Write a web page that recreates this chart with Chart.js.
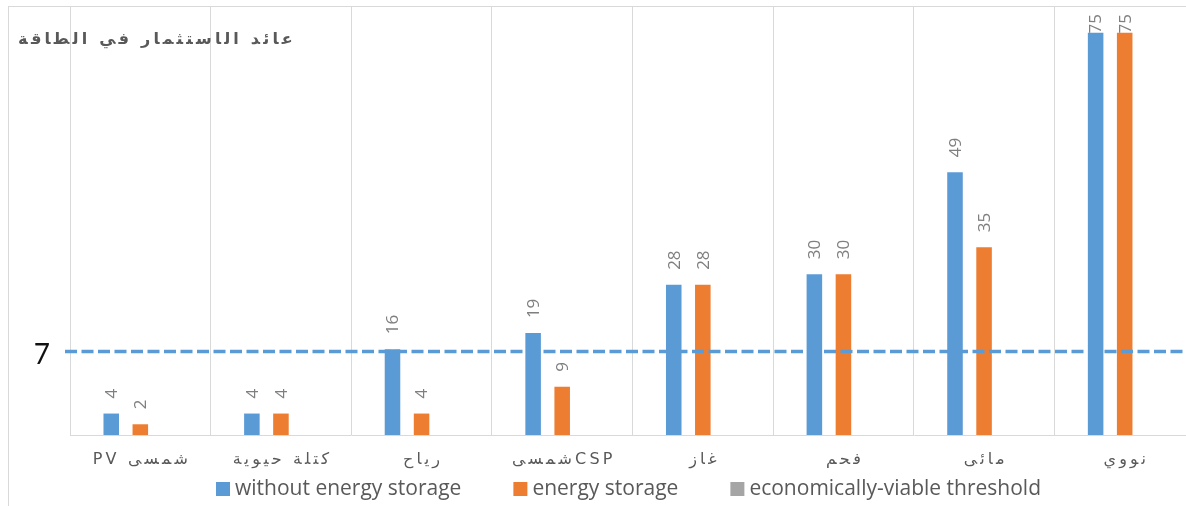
<!DOCTYPE html>
<html>
<head>
<meta charset="utf-8">
<script src="https://cdn.jsdelivr.net/npm/chart.js@4.4.1/dist/chart.umd.min.js"></script>
<style>
  html, body { margin: 0; padding: 0; background: #ffffff; overflow: hidden; }
  #wrap { width: 1186px; height: 506px; overflow: hidden; position: relative; }
  canvas { display: block; }
</style>
</head>
<body>
<div id="wrap"><canvas id="eroiChart" width="1200" height="506"></canvas></div>
<script>
// Energy return on investment by source
const categories = ['PV شمسى', 'كتلة حيوية', 'رياح', 'شمسىCSP', 'غاز', 'فحم', 'مائى', 'نووي'];
const withoutStorage = [4, 4, 16, 19, 28, 30, 49, 75];
const withStorage = [2, 4, 4, 9, 28, 30, 35, 75];
const thresholdValue = 7;
const seriesNames = ['without energy storage', 'energy storage', 'economically-viable threshold'];
const chartTitle = 'عائد الاستثمار في الطاقة';

const BLUE = '#5B9BD5';
const ORANGE = '#ED7D31';
const GREY = '#A5A5A5';
const GRID = '#d9d9d9';

// Spread letters apart while keeping Arabic letters in their joined shapes
const ZWJ = '\u200D';
const GAP = '\u2009';
const RIGHT_JOINING = new Set(Array.from('اأإآدذرزوؤةء'));
const isArabic = ch => /[\u0600-\u06FF]/.test(ch);
function spaced(text) {
  const chars = Array.from(text);
  let out = '';
  for (let i = 0; i < chars.length; i++) {
    const a = chars[i], b = chars[i + 1];
    out += a === ' ' ? GAP + ' ' + GAP : a;
    if (b === undefined || a === ' ' || b === ' ') continue;
    if (isArabic(a) && isArabic(b)) {
      out += RIGHT_JOINING.has(a) || b === 'ء' ? GAP : ZWJ + GAP + ZWJ;
    } else {
      out += GAP;
    }
  }
  return out;
}

// Outer frame of the chart
const frame = {
  id: 'frame',
  beforeDraw(chart) {
    const ctx = chart.ctx;
    ctx.save();
    ctx.strokeStyle = GRID;
    ctx.lineWidth = 1;
    ctx.strokeRect(8.5, 6.5, chart.width + 20, chart.height + 20);
    ctx.restore();
  }
};

// Dashed threshold line across the plot, from the threshold scale
const thresholdLine = {
  id: 'thresholdLine',
  afterDatasetsDraw(chart) {
    const { ctx, chartArea } = chart;
    const y = chart.scales.yThr.getPixelForValue(thresholdValue);
    ctx.save();
    ctx.strokeStyle = BLUE;
    ctx.lineWidth = 3.5;
    ctx.setLineDash([12, 4.5]);
    ctx.beginPath();
    ctx.moveTo(chartArea.left - 5, y);
    ctx.lineTo(chartArea.right, y);
    ctx.stroke();
    ctx.restore();
  }
};

// Rotated value labels above each bar
const barValueLabels = {
  id: 'barValueLabels',
  afterDatasetsDraw(chart) {
    const { ctx, chartArea } = chart;
    ctx.save();
    ctx.font = '17px "Open Sans"';
    ctx.fillStyle = '#7f7f7f';
    ctx.textAlign = 'left';
    ctx.textBaseline = 'middle';
    chart.data.datasets.forEach((ds, di) => {
      const meta = chart.getDatasetMeta(di);
      meta.data.forEach((bar, i) => {
        const v = ds.data[i];
        if (v === null || v === undefined) return;
        const txt = String(v);
        const w = ctx.measureText(txt).width;
        let base = bar.y - 15;
        const minBase = chartArea.top + 8 + w;
        if (base < minBase) base = minBase;
        ctx.save();
        ctx.translate(bar.x + 1, base);
        ctx.rotate(-Math.PI / 2);
        ctx.fillText(txt, 0, 0);
        ctx.restore();
      });
    });
    ctx.restore();
  }
};

// Title, threshold value and legend row
const annotations = {
  id: 'annotations',
  afterDraw(chart) {
    const { ctx, chartArea } = chart;
    ctx.save();

    // title
    ctx.font = 'bold 16px "DejaVu Sans"';
    ctx.fillStyle = '#595959';
    ctx.textAlign = 'left';
    ctx.textBaseline = 'middle';
    ctx.fillText(spaced(chartTitle), 18, 40);

    // threshold value beside the dashed line
    const yThr = chart.scales.yThr.getPixelForValue(thresholdValue);
    ctx.font = '28px Lato';
    ctx.fillStyle = '#111111';
    ctx.textAlign = 'right';
    ctx.textBaseline = 'middle';
    ctx.fillText(String(thresholdValue), chartArea.left - 20, yThr + 3);

    // legend
    const items = chart.data.datasets;
    ctx.font = '21px "Open Sans"';
    ctx.textAlign = 'left';
    ctx.textBaseline = 'middle';
    const box = 14, gapText = 5, gapItem = 52;
    const widths = items.map(d => ctx.measureText(d.label).width);
    const total = widths.reduce((a, w) => a + box + gapText + w, 0) + gapItem * (items.length - 1);
    let x = (chartArea.left + chartArea.right) / 2 - 4 - total / 2;
    const yMid = chart.height - 17;
    items.forEach((d, i) => {
      ctx.fillStyle = d.backgroundColor;
      ctx.fillRect(x, yMid - box / 2, box, box);
      ctx.fillStyle = '#595959';
      ctx.fillText(d.label, x + box + gapText, yMid);
      x += box + gapText + widths[i] + gapItem;
    });
    ctx.restore();
  }
};

new Chart(document.getElementById('eroiChart'), {
  type: 'bar',
  data: {
    labels: categories,
    datasets: [
      { label: seriesNames[0], data: withoutStorage, backgroundColor: BLUE },
      { label: seriesNames[1], data: withStorage, backgroundColor: ORANGE },
      { label: seriesNames[2], data: [], backgroundColor: GREY }
    ]
  },
  options: {
    responsive: false,
    animation: false,
    devicePixelRatio: 1,
    layout: { padding: { left: 70, right: 5, top: 6, bottom: 31 } },
    datasets: {
      bar: { categoryPercentage: 0.62, barPercentage: 0.535 }
    },
    plugins: {
      legend: { display: false },
      title: { display: false },
      tooltip: { enabled: false }
    },
    scales: {
      x: {
        type: 'category',
        position: 'bottom',
        grid: { color: GRID, lineWidth: 1, offset: true, drawTicks: false },
        border: { display: true, color: GRID, width: 1 },
        ticks: {
          color: '#595959',
          font: { family: '"DejaVu Sans"', size: 16 },
          padding: 15,
          maxRotation: 0,
          autoSkip: false,
          callback: (value, index) => spaced(categories[index])
        },
        afterFit(scale) { scale.height = 40; }
      },
      y: {
        display: false,
        min: 0,
        max: 80
      },
      yThr: {
        type: 'linear',
        position: 'right',
        display: false,
        min: 0,
        max: 36
      }
    }
  },
  plugins: [frame, barValueLabels, thresholdLine, annotations]
});
</script>
</body>
</html>
